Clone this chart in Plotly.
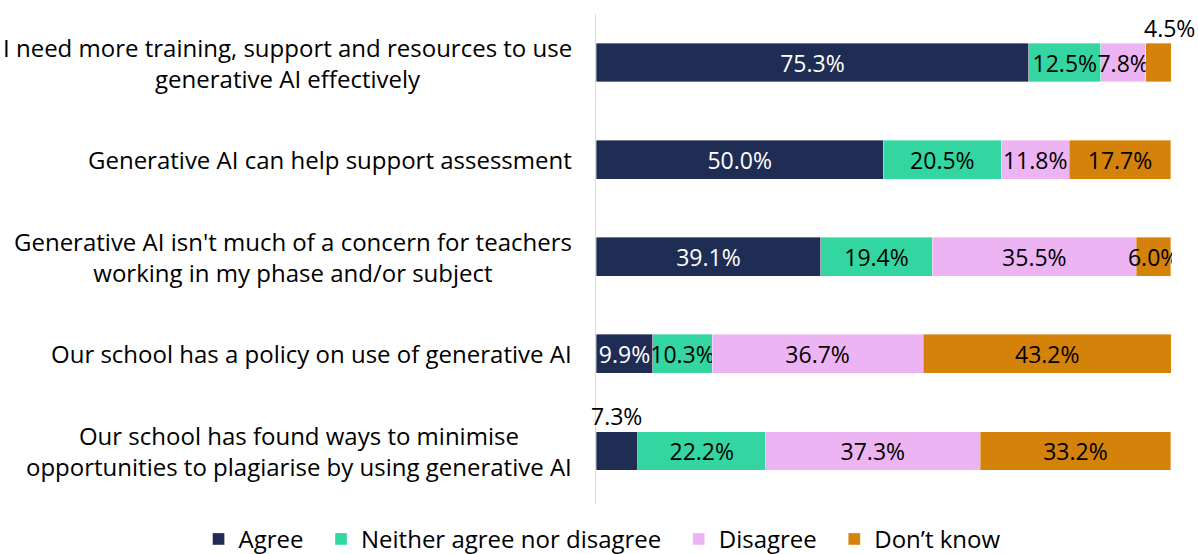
import plotly.graph_objects as go

categories = [
    "I need more training, support and resources to use<br>generative AI effectively",
    "Generative AI can help support assessment",
    "Generative AI isn't much of a concern for teachers<br>working in my phase and/or subject",
    "Our school has a policy on use of generative AI",
    "Our school has found ways to minimise<br>opportunities to plagiarise by using generative AI",
]
series_names = ["Agree", "Neither agree nor disagree", "Disagree", "Don\u2019t know"]
agree = [75.3, 50.0, 39.1, 9.9, 7.3]
neither = [12.5, 20.5, 19.4, 10.3, 22.2]
disagree = [7.8, 11.8, 35.5, 36.7, 37.3]
dont_know = [4.5, 17.7, 6.0, 43.2, 33.2]
# labels drawn above the bar instead of inside (series index, category index)
outside_labels = [(3, 0), (0, 4)]

colors = ["#1F2D54", "#33D6A0", "#EDB4F3", "#D4820A"]
text_colors = ["white", "black", "black", "black"]
FONT = "Open Sans"
FS = 24      # category labels / legend
FS_BAR = 23  # value labels
LEGEND_PAD = "\u00a0" * 2  # extra spacing between legend entries

series = [agree, neither, disagree, dont_know]
ids = list(range(len(categories)))

fig = go.Figure()
for si, (name, vals) in enumerate(zip(series_names, series)):
    texts = []
    for ci, v in enumerate(vals):
        texts.append("" if (si, ci) in outside_labels else f"{v:.1f}%")
    fig.add_trace(go.Bar(
        y=ids, x=vals, name=name + LEGEND_PAD, orientation="h",
        marker=dict(color=colors[si], line=dict(width=0.6, color="rgba(255,255,255,0.6)")),
        text=texts, textposition="inside", insidetextanchor="middle", textangle=0,
        textfont=dict(color=text_colors[si], size=FS_BAR, family=FONT),
        hoverinfo="x+name",
    ))

annotations = []
# outside labels
for si, ci in outside_labels:
    start = sum(series[k][ci] for k in range(si))
    end = start + series[si][ci]
    xpos = end if si == len(series) - 1 else (start + end) / 2
    annotations.append(dict(
        x=xpos, y=ci, xref="x", yref="y", text=f"{series[si][ci]:.1f}%",
        showarrow=False, xanchor="center", yanchor="bottom", yshift=17,
        xshift=-2 if si == len(series) - 1 else 0,
        font=dict(size=FS_BAR, family=FONT, color="black"),
    ))
# category labels
for ci, cat in enumerate(categories):
    annotations.append(dict(
        x=0, y=ci, xref="paper", yref="y", text=cat, showarrow=False,
        xanchor="right", yanchor="middle", align="center",
        xshift=-22,
        font=dict(size=FS, family=FONT, color="black"),
    ))

fig.update_layout(annotations=annotations)

fig.update_layout(
    barmode="stack",
    bargap=0.6,
    width=1198, height=554,
    margin=dict(l=596, r=26, t=14, b=50, autoexpand=False),
    paper_bgcolor="white", plot_bgcolor="white",
    font=dict(family=FONT, size=FS, color="black"),
    xaxis=dict(range=[0, 100.2], visible=False, fixedrange=True),
    yaxis=dict(tickvals=ids, showticklabels=False, autorange="reversed",
               showline=True, linecolor="#d9d9d9", linewidth=1, ticks="",
               showgrid=False, zeroline=False),
    legend=dict(orientation="h", xref="paper", yref="paper",
                x=-0.69, xanchor="left", y=-0.072, yanchor="middle",
                font=dict(size=FS, family=FONT), traceorder="normal",
                itemwidth=30),
    uniformtext=dict(minsize=FS_BAR, mode="show"),
    showlegend=True,
)
fig.write_html("out.html")
